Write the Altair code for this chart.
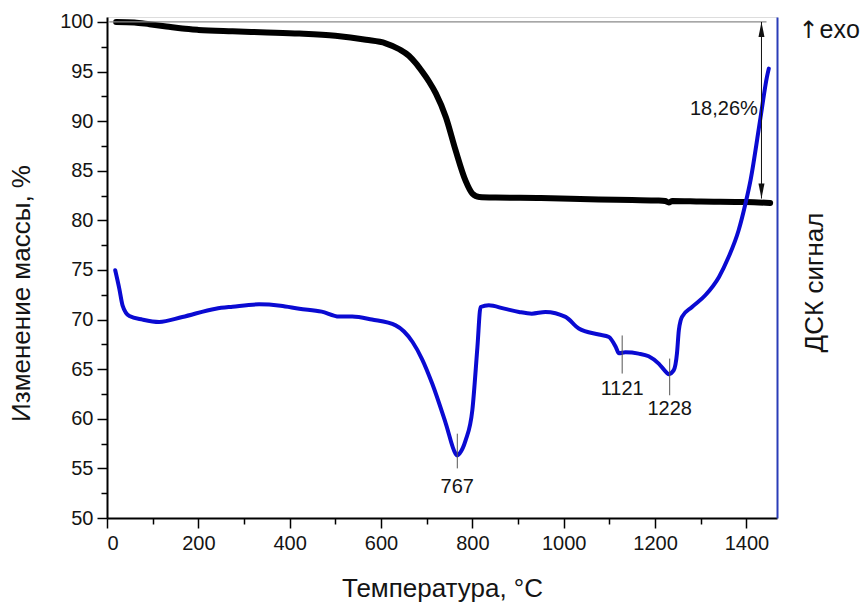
import altair as alt
import pandas as pd

# ---- data ----
tg_T = [20, 60, 93, 130, 165, 200, 275, 350, 421, 500, 567, 610, 640, 661, 676, 690, 705, 720, 742, 763, 785, 800, 815, 851, 950, 1077, 1150, 1208, 1222, 1230, 1238, 1300, 1400, 1452]
tg_V = [100.0, 99.95, 99.77, 99.55, 99.33, 99.2, 99.06, 98.95, 98.83, 98.6, 98.2, 97.85, 97.25, 96.6, 95.85, 95.0, 94.0, 92.8, 90.4, 87.1, 84.0, 82.7, 82.36, 82.3, 82.25, 82.1, 82.05, 82.0, 81.95, 81.8, 81.95, 81.9, 81.85, 81.76]

dsc_T = [18, 27, 34, 49, 78, 114, 165, 238, 275, 333, 380, 421, 470, 508, 537, 580, 632, 669, 690, 712, 742, 763, 767, 772, 785, 800, 811, 818, 836, 870, 902, 930, 960, 1004, 1033, 1077, 1099, 1114, 1121, 1135, 1164, 1186, 1208, 1224, 1230, 1241, 1248, 1252, 1256, 1259, 1281, 1310, 1340, 1361, 1383, 1398, 1409, 1431, 1445, 1449]
dsc_V = [74.97, 73.1, 71.44, 70.36, 70.0, 69.76, 70.26, 71.1, 71.3, 71.54, 71.4, 71.1, 70.8, 70.3, 70.3, 70.0, 69.42, 67.74, 66.0, 63.55, 59.5, 56.5, 56.3, 56.5, 57.8, 60.9, 67.2, 71.27, 71.44, 71.1, 70.77, 70.6, 70.77, 70.27, 69.1, 68.5, 68.25, 67.24, 66.6, 66.7, 66.57, 66.3, 65.56, 64.72, 64.5, 64.9, 66.6, 68.9, 69.9, 70.27, 71.27, 72.45, 74.3, 76.3, 79.0, 81.7, 84.04, 90.4, 94.46, 95.3]

peak_T = [767, 1128, 1232]
peak_top = [58.5, 68.4, 66.07]
peak_bot = [55.0, 64.56, 62.37]
peak_label = ["767", "1121", "1228"]
peak_label_V = [53.1, 63.05, 61.03]

ref_x = [5]
ref_x2 = [1444]
ref_y = [100]
arrow_T = [1433]
arrow_top = [100]
arrow_bot = [82.2]
loss_label = ["18,26%"]
loss_T = [1425]
loss_V = [91.27]
exo_arrow = ["\u2191"]
exo_arrow_T = [1514]
exo_word = ["exo"]
exo_word_T = [1560]
exo_V = [98.36]

x_major = [0, 200, 400, 600, 800, 1000, 1200, 1400]
x_minor = [100, 300, 500, 700, 900, 1100, 1300]
y_major = [50, 55, 60, 65, 70, 75, 80, 85, 90, 95, 100]
y_minor = [52.5, 57.5, 62.5, 67.5, 72.5, 77.5, 82.5, 87.5, 92.5, 97.5]

FONT = "Liberation Sans"
TXT = "#141414"
BLUE = "#0a0ad2"

xs = alt.Scale(domain=[0, 1467], nice=False, zero=False)
ys = alt.Scale(domain=[50, 100.5], nice=False, zero=False)

tg = pd.DataFrame({"T": tg_T, "V": tg_V})
dsc = pd.DataFrame({"T": dsc_T, "V": dsc_V})
peaks = pd.DataFrame({"T": peak_T, "top": peak_top, "bot": peak_bot, "label": peak_label, "lv": peak_label_V})

x_major_axis = alt.Axis(values=x_major, format="d", tickSize=10, tickWidth=1.5, tickColor="#000", domainColor="#000",
                        domainWidth=2, labelFontSize=20, labelFont=FONT, labelColor=TXT, labelPadding=5,
                        title="Температура, °C", titleFont=FONT, titleFontSize=26, titleFontWeight="normal",
                        titleColor=TXT, titlePadding=22, grid=False, orient="bottom")
y_major_axis = alt.Axis(values=y_major, format="d", tickSize=10, tickWidth=1.5, tickColor="#000", domainColor="#000",
                        domainWidth=2, labelFontSize=20, labelFont=FONT, labelColor=TXT, labelPadding=4,
                        title="Изменение массы, %", titleFont=FONT, titleFontSize=26, titleFontWeight="normal",
                        titleColor=TXT, titlePadding=25, titleY=276, grid=False, orient="left")
x_minor_axis = alt.Axis(values=x_minor, tickSize=6, tickWidth=1.5, tickColor="#000", domain=False,
                        labels=False, title=None, grid=False, orient="bottom")
y_minor_axis = alt.Axis(values=y_minor, tickSize=6, tickWidth=1.5, tickColor="#000", domain=False,
                        labels=False, title=None, grid=False, orient="left")
y_right_axis = alt.Axis(ticks=False, labels=False, domainColor="#2a3cb8", domainWidth=2, grid=False,
                        title="ДСК сигнал", titleFont=FONT, titleFontSize=26, titleFontWeight="normal",
                        titleColor=TXT, titleAngle=270, titleBaseline="top", titlePadding=24, titleY=265,
                        orient="right")

tg_line = alt.Chart(tg).mark_line(color="#000", strokeWidth=6, strokeCap="round", interpolate="monotone").encode(
    x=alt.X("T:Q", scale=xs, axis=x_major_axis),
    y=alt.Y("V:Q", scale=ys, axis=y_major_axis),
)

dsc_line = alt.Chart(dsc).mark_line(color=BLUE, strokeWidth=4, strokeCap="round", interpolate="monotone").encode(
    x=alt.X("T:Q", scale=xs, axis=x_minor_axis),
    y=alt.Y("V:Q", scale=ys, axis=y_right_axis),
)

ref_line = alt.Chart(pd.DataFrame({"x": ref_x, "x2": ref_x2, "y": ref_y})).mark_rule(color="#8a8a8a", strokeWidth=1.2).encode(
    x=alt.X("x:Q", scale=xs, axis=None),
    x2="x2:Q",
    y=alt.Y("y:Q", scale=ys, axis=y_minor_axis),
)

arrow = alt.Chart(pd.DataFrame({"x": arrow_T, "y": arrow_top, "y2": arrow_bot})).mark_rule(color="#111", strokeWidth=1).encode(
    x=alt.X("x:Q", scale=xs, axis=None),
    y=alt.Y("y:Q", scale=ys, axis=None),
    y2="y2:Q",
)

up_head = alt.Chart(pd.DataFrame({"x": arrow_T, "y": arrow_top})).mark_point(
    shape="M0,-1L-0.4,1L0.4,1Z", filled=True, color="#111", size=225, opacity=1, yOffset=7.5).encode(
    x=alt.X("x:Q", scale=xs, axis=None),
    y=alt.Y("y:Q", scale=ys, axis=None),
)
down_head = alt.Chart(pd.DataFrame({"x": arrow_T, "y": arrow_bot})).mark_point(
    shape="M0,1L-0.4,-1L0.4,-1Z", filled=True, color="#111", size=225, opacity=1, yOffset=-7.5).encode(
    x=alt.X("x:Q", scale=xs, axis=None),
    y=alt.Y("y:Q", scale=ys, axis=None),
)

peak_rules = alt.Chart(peaks).mark_rule(color="#555", strokeWidth=1).encode(
    x=alt.X("T:Q", scale=xs, axis=None),
    y=alt.Y("top:Q", scale=ys, axis=None),
    y2="bot:Q",
)
peak_text = alt.Chart(peaks).mark_text(font=FONT, fontSize=20, color=TXT, baseline="middle", align="center").encode(
    x=alt.X("T:Q", scale=xs, axis=None),
    y=alt.Y("lv:Q", scale=ys, axis=None),
    text="label:N",
)

loss_text = alt.Chart(pd.DataFrame({"x": loss_T, "y": loss_V, "t": loss_label})).mark_text(
    font=FONT, fontSize=20, color=TXT, baseline="middle", align="right").encode(
    x=alt.X("x:Q", scale=xs, axis=None),
    y=alt.Y("y:Q", scale=ys, axis=None),
    text="t:N",
)

exo_arrow_text = alt.Chart(pd.DataFrame({"x": exo_arrow_T, "y": exo_V, "t": exo_arrow})).mark_text(
    font="DejaVu Sans", fontSize=24, color=TXT, baseline="alphabetic", align="left").encode(
    x=alt.X("x:Q", scale=xs, axis=None),
    y=alt.Y("y:Q", scale=ys, axis=None),
    text="t:N",
)
exo_word_text = alt.Chart(pd.DataFrame({"x": exo_word_T, "y": exo_V, "t": exo_word})).mark_text(
    font=FONT, fontSize=25, color=TXT, baseline="alphabetic", align="left").encode(
    x=alt.X("x:Q", scale=xs, axis=None),
    y=alt.Y("y:Q", scale=ys, axis=None),
    text="t:N",
)

chart = alt.layer(
    tg_line, dsc_line, ref_line, arrow, up_head, down_head, peak_rules, peak_text, loss_text,
    exo_arrow_text, exo_word_text
).resolve_scale(x="shared", y="shared").resolve_axis(x="independent", y="independent").properties(
    width=670, height=501, padding={"left": 8, "top": 9, "right": 2, "bottom": 2}
).configure_view(stroke=None).configure(background="white")

chart.save("out.html", embed_options={"renderer": "svg", "actions": False})
